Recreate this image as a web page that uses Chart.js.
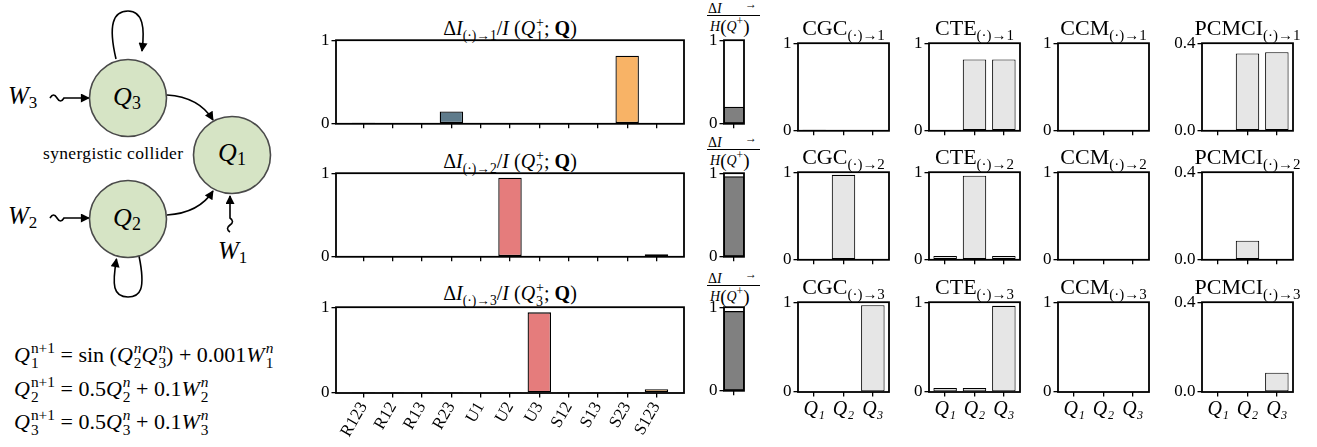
<!DOCTYPE html>
<html>
<head>
<meta charset="utf-8">
<script src="https://cdn.jsdelivr.net/npm/chart.js@4.4.1/dist/chart.umd.min.js"></script>
<style>
  body { margin: 0; background: #fff; }
  #fig { position: relative; width: 1317px; height: 447px; overflow: hidden; font-family: "Liberation Serif", serif; font-weight: normal; color: #000; }
  svg text { font-family: "Liberation Serif", serif; }
  .t { position: absolute; white-space: nowrap; line-height: 1; transform: translateX(-50%); font-weight: normal; }
  .t sub, .eq sub { font-size: 0.68em; vertical-align: -0.35em; line-height: 0; }
  .ss { display: inline-flex; flex-direction: column; font-size: 0.7em; line-height: 1; vertical-align: 0.6em; margin-left: 1px; }
  .eq { position: absolute; left: 14px; font-size: 22px; line-height: 1; white-space: nowrap; }
  .frac { position: absolute; font-size: 14px; line-height: 1; width: 53px; }
  .frac .num { position: relative; height: 13px; border-bottom: 1px solid #000; padding-left: 1px; }
  .frac .arr { position: absolute; left: 38px; top: -4px; font-size: 12px; }
  .frac .den { padding-left: 3px; }
  .frac .bp { font-size: 19px; vertical-align: -2px; }
  canvas { position: absolute; }
</style>
</head>
<body>
<div id="fig">
  <svg width="300" height="320" style="position:absolute;left:0;top:0">
    <defs>
      <marker id="ah" viewBox="0 0 10 10" refX="9" refY="5" markerWidth="10" markerHeight="9" markerUnits="userSpaceOnUse" orient="auto">
        <path d="M0,0 L10,5 L0,10 z" fill="#000"/>
      </marker>
    </defs>
    <g fill="none" stroke="#000" stroke-width="1.6">
      <path d="M116,59 C108,25 113,11 128,11 C143,11 145,28 142,51" marker-end="url(#ah)"/>
      <path d="M139,256 C146,290 140,297 128,297 C113,297 112,285 116.5,259" marker-end="url(#ah)"/>
      <path d="M167,95 Q199,97 213,120" marker-end="url(#ah)"/>
      <path d="M167,215 Q199,213 213,191" marker-end="url(#ah)"/>
      <path d="M50,98 q3.5,-6 7,0 t7,0 L89,98" marker-end="url(#ah)"/>
      <path d="M50,218 q3.5,-6 7,0 t7,0 L89,218" marker-end="url(#ah)"/>
      <path d="M230,232 q-5,-3.5 0,-7 t0,-7 L230,196" marker-end="url(#ah)"/>
    </g>
    <g fill="#d6e4c5" stroke="#4a4a4a" stroke-width="1.6">
      <circle cx="128" cy="98" r="38.5"/>
      <circle cx="232" cy="155" r="38.5"/>
      <circle cx="128" cy="219" r="38.5"/>
    </g>
    <g font-size="26" text-anchor="middle">
      <text x="127" y="105"><tspan font-style="italic">Q</tspan><tspan font-size="18" dy="4">3</tspan></text>
      <text x="232" y="161"><tspan font-style="italic">Q</tspan><tspan font-size="18" dy="4">1</tspan></text>
      <text x="127" y="226"><tspan font-style="italic">Q</tspan><tspan font-size="18" dy="4">2</tspan></text>
    </g>
    <g font-size="25">
      <text x="8" y="104"><tspan font-style="italic">W</tspan><tspan font-size="17" dy="4">3</tspan></text>
      <text x="8" y="224"><tspan font-style="italic">W</tspan><tspan font-size="17" dy="4">2</tspan></text>
      <text x="218" y="259"><tspan font-style="italic">W</tspan><tspan font-size="17" dy="4">1</tspan></text>
    </g>
    <text x="43" y="159" font-size="17.5" textLength="140">synergistic collider</text>
  </svg>

  <div class="eq" style="top:340px"><i>Q</i><span class="ss"><span>n+1</span><span>1</span></span> = sin (<i>Q</i><span class="ss"><i>n</i><span>2</span></span><i>Q</i><span class="ss"><i>n</i><span>3</span></span>) + 0.001<i>W</i><span class="ss"><i>n</i><span>1</span></span></div>
  <div class="eq" style="top:374px"><i>Q</i><span class="ss"><span>n+1</span><span>2</span></span> = 0.5<i>Q</i><span class="ss"><i>n</i><span>2</span></span> + 0.1<i>W</i><span class="ss"><i>n</i><span>2</span></span></div>
  <div class="eq" style="top:407px"><i>Q</i><span class="ss"><span>n+1</span><span>3</span></span> = 0.5<i>Q</i><span class="ss"><i>n</i><span>3</span></span> + 0.1<i>W</i><span class="ss"><i>n</i><span>3</span></span></div>

  <div class="t" style="left:510px;top:16px;font-size:20px">Δ<i>I</i><sub>(·)→1</sub>/<i>I</i> (<i>Q</i><span class="ss"><span>+</span><span>1</span></span>; <b>Q</b>)</div>
  <div class="t" style="left:510px;top:149px;font-size:20px">Δ<i>I</i><sub>(·)→2</sub>/<i>I</i> (<i>Q</i><span class="ss"><span>+</span><span>2</span></span>; <b>Q</b>)</div>
  <div class="t" style="left:510px;top:281px;font-size:20px">Δ<i>I</i><sub>(·)→3</sub>/<i>I</i> (<i>Q</i><span class="ss"><span>+</span><span>3</span></span>; <b>Q</b>)</div>

  <div class="frac" style="left:707px;top:2px"><div class="num">Δ<i>I</i><span class="arr">→</span></div><div class="den"><i>H</i><span class="bp">(</span><i>Q</i><sup>+</sup><span class="bp">)</span></div></div>
  <div class="frac" style="left:707px;top:136px"><div class="num">Δ<i>I</i><span class="arr">→</span></div><div class="den"><i>H</i><span class="bp">(</span><i>Q</i><sup>+</sup><span class="bp">)</span></div></div>
  <div class="frac" style="left:707px;top:272px"><div class="num">Δ<i>I</i><span class="arr">→</span></div><div class="den"><i>H</i><span class="bp">(</span><i>Q</i><sup>+</sup><span class="bp">)</span></div></div>
</div>

<script>
// categories and values
const cats = ["R123", "R12", "R13", "R23", "U1", "U2", "U3", "S12", "S13", "S23", "S123"];
const dI_1 = [0.012, 0, 0.002, 0.148, 0, 0, 0, 0.004, 0.003, 0.815, 0.002];
const dI_2 = [0.003, 0.002, 0.002, 0.002, 0, 0.946, 0.002, 0.002, 0.002, 0.002, 0.03];
const dI_3 = [0.002, 0.002, 0.004, 0.002, 0, 0.002, 0.94, 0.002, 0.002, 0.002, 0.045];
const dI_H = [0.2, 0.96, 0.95];   // ΔI / H(Q+) for targets 1..3

const qLabels = ["Q₁", "Q₂", "Q₃"];
const cgc_1 = [0.012, 0, 0];
const cgc_2 = [0, 0.97, 0];
const cgc_3 = [0, 0, 0.967];
const cte_1 = [0.003, 0.815, 0.815];
const cte_2 = [0.044, 0.96, 0.044];
const cte_3 = [0.044, 0.044, 0.96];
const ccm_1 = [0, 0, 0];
const ccm_2 = [0, 0, 0];
const ccm_3 = [0, 0, 0];
const pcmci_1 = [0, 0.353, 0.359];
const pcmci_2 = [0, 0.087, 0];
const pcmci_3 = [0, 0, 0.086];

const methodNames = ["CGC", "CTE", "CCM", "PCMCI"];

Chart.defaults.font.family = "Liberation Serif";
Chart.defaults.color = "#000";

const slate = "#5f7b8b", red = "#e57c7c", orange = "#f8b366";
const catColours = cats.map(c => c[0] === "R" ? slate : (c[0] === "U" ? red : orange));

const fig = document.getElementById("fig");

const frame = {
    id: "frame",
    afterDraw(chart) {
        const a = chart.chartArea, ctx = chart.ctx;
        ctx.save();
        ctx.lineWidth = 1.8;
        ctx.strokeStyle = "#000";
        ctx.strokeRect(a.left, a.top, a.right - a.left, a.bottom - a.top);
        ctx.restore();
    }
};

function barPanel(o) {
    const padL = 40, padR = 12, padT = 12, padB = o.padB || 10;
    const cv = document.createElement("canvas");
    cv.width = padL + o.w + padR;
    cv.height = padT + o.h + padB;
    cv.style.left = (o.x - padL) + "px";
    cv.style.top = (o.y - padT) + "px";
    fig.appendChild(cv);

    const tickGrid = { display: true, offset: false, drawOnChartArea: false, drawTicks: true, tickLength: 4.5, color: "#000", lineWidth: 1.3 };

    new Chart(cv, {
        type: "bar",
        data: {
            datasets: [{
                data: o.values.map((v, i) => ({ x: i, y: v })),
                backgroundColor: o.colours,
                borderColor: "#000",
                borderWidth: o.bw,
                borderSkipped: false,
                barPercentage: o.bp,
                categoryPercentage: 1
            }]
        },
        options: {
            responsive: false,
            animation: false,
            devicePixelRatio: 1,
            layout: { padding: { left: 0, top: padT, right: padR, bottom: 0 } },
            plugins: { legend: { display: false }, tooltip: { enabled: false } },
            scales: {
                x: {
                    type: "linear",
                    min: o.xmin,
                    max: o.xmax,
                    offset: false,
                    grid: tickGrid,
                    border: { display: false },
                    afterBuildTicks: s => { s.ticks = o.labels.map((_, i) => ({ value: i })); },
                    afterFit: s => { s.height = padB; },
                    ticks: {
                        autoSkip: false,
                        minRotation: o.rot || 0,
                        maxRotation: o.rot || 0,
                        padding: 1,
                        font: o.xFont || { size: 15 },
                        callback: (v, i) => o.showX ? o.labels[i] : ""
                    }
                },
                y: {
                    min: 0,
                    max: o.ymax,
                    grid: tickGrid,
                    border: { display: false },
                    afterBuildTicks: s => { s.ticks = [{ value: 0 }, { value: o.ymax }]; },
                    afterFit: s => { s.width = padL; },
                    ticks: {
                        padding: 2,
                        font: { size: 17 },
                        callback: v => o.ymax < 1 ? v.toFixed(1) : String(v)
                    }
                }
            }
        },
        plugins: [frame]
    });
}

// layout
const mainTops = [40, 173, 307];
const rightTops = [43, 172, 302];
const rightLefts = [798, 929, 1058, 1202];
const dIRows = [dI_1, dI_2, dI_3];
const methodRows = [
    [cgc_1, cte_1, ccm_1, pcmci_1],
    [cgc_2, cte_2, ccm_2, pcmci_2],
    [cgc_3, cte_3, ccm_3, pcmci_3]
];

for (let r = 0; r < 3; r++) {
    const last = r === 2;

    barPanel({
        x: 336, y: mainTops[r], w: 348, h: 86,
        values: dIRows[r], colours: catColours, bw: 1.3, bp: 0.8,
        xmin: -0.94, xmax: 10.94, labels: cats, showX: last, rot: 60,
        padB: last ? 60 : 10, ymax: 1, xFont: { size: 17 }
    });

    barPanel({
        x: 724, y: mainTops[r], w: 20, h: 86,
        values: [dI_H[r]], colours: "#808080", bw: 1.3, bp: 1,
        xmin: -0.5, xmax: 0.5, labels: [""], showX: false, ymax: 1
    });

    for (let m = 0; m < 4; m++) {
        barPanel({
            x: rightLefts[m], y: rightTops[r], w: 91, h: 90,
            values: methodRows[r][m], colours: "#e6e6e6", bw: 1.1, bp: 0.8,
            xmin: -0.55, xmax: 2.55, labels: qLabels, showX: last,
            padB: last ? 32 : 10, ymax: methodNames[m] === "PCMCI" ? 0.4 : 1,
            xFont: { size: 20, style: "italic" }
        });

        const t = document.createElement("div");
        t.className = "t";
        t.style.left = (rightLefts[m] + 45.5) + "px";
        t.style.top = (rightTops[r] - 26) + "px";
        t.style.fontSize = "22px";
        t.innerHTML = methodNames[m] + "<sub>(·)→" + (r + 1) + "</sub>";
        fig.appendChild(t);
    }
}
</script>
</body>
</html>
